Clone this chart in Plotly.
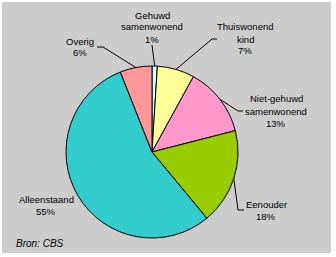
import math
import plotly.graph_objects as go

categories = ["Gehuwd samenwonend", "Thuiswonend kind", "Niet-gehuwd samenwonend",
              "Eenouder", "Alleenstaand", "Overig"]
label_lines = [["Gehuwd", "samenwonend", "1%"], ["Thuiswonend", "kind", "7%"],
               ["Niet-gehuwd", "samenwonend", "13%"], ["Eenouder", "18%"],
               ["Alleenstaand", "55%"], ["Overig", "6%"]]
values = [1, 7, 13, 18, 55, 6]
colors = ["#CCFFFF", "#FFFF99", "#FF99CC", "#99CC00", "#33CCCC", "#FF9999"]
source_text = "Bron: CBS"

W, H = 336, 257
CX, CY, R = 152, 152, 86
LINE_H = 12
FONT = dict(family="Liberation Sans, Arial", size=9.5, color="black")
SRC_FONT = dict(family="Liberation Sans, Arial", size=10, color="black")

# label layout (pixel positions of text centres and leader elbows)
text_pos = [(152, 27), (245, 39), (276, 111), (266, 210), (46, 205), (80, 47)]
leaders = [
    [(152, 45)],
    [(212, 39), (217, 39)],
    [(238, 111), (243, 111)],
    [(238, 210), (244, 210)],
    None,
    [(103, 47), (97, 47)],
]

def px(x, y):
    return x / W, 1 - y / H

fig = go.Figure()
fig.add_trace(go.Pie(
    labels=categories, values=values, sort=False, direction="clockwise",
    rotation=0, textinfo="none", hoverinfo="label+percent",
    marker=dict(colors=colors, line=dict(color="black", width=1)),
    domain=dict(x=[(CX - R) / W, (CX + R) / W], y=[(H - CY - R) / H, (H - CY + R) / H]),
    showlegend=False,
))

shapes = [dict(type="rect", xref="paper", yref="paper",
               x0=2 / W, x1=331 / W, y0=1 - 253 / H, y1=1 - 2 / H,
               fillcolor="#CCCCCC", line=dict(width=0), layer="below")]

total = sum(values)
cum = 0
annotations = []
for i, v in enumerate(values):
    mid = (cum + v / 2) / total * 2 * math.pi
    cum += v
    ex = CX + R * math.sin(mid)
    ey = CY - R * math.cos(mid)
    if leaders[i]:
        pts = [(ex, ey)] + leaders[i]
        path = "M " + " L ".join(f"{px(x, y)[0]},{px(x, y)[1]}" for x, y in pts)
        shapes.append(dict(type="path", xref="paper", yref="paper", path=path,
                           line=dict(color="black", width=1)))
    cx_, cy_ = text_pos[i]
    n = len(label_lines[i])
    for j, line in enumerate(label_lines[i]):
        ly = cy_ + (j - (n - 1) / 2) * LINE_H
        tx, ty = px(cx_, ly)
        annotations.append(dict(x=tx, y=ty, xref="paper", yref="paper", text=line,
                                showarrow=False, xanchor="center", yanchor="middle",
                                font=FONT))

sx, sy = px(14, 243)
annotations.append(dict(x=sx, y=sy, xref="paper", yref="paper", text=f"<i>{source_text}</i>",
                        showarrow=False, xanchor="left", yanchor="middle", font=SRC_FONT))

fig.update_layout(width=W, height=H, margin=dict(l=0, r=0, t=0, b=0),
                  paper_bgcolor="white", plot_bgcolor="white",
                  shapes=shapes, annotations=annotations)
fig.write_html("out.html")
